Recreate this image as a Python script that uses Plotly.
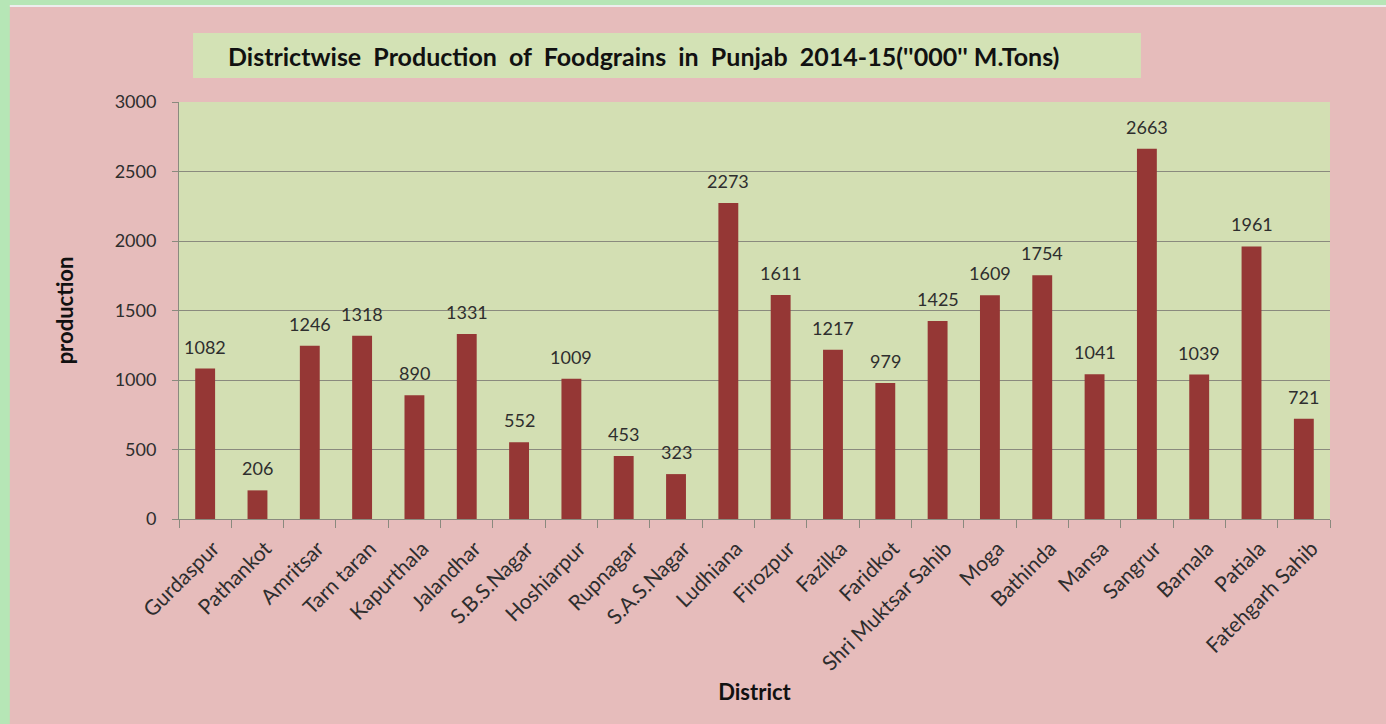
"""Districtwise foodgrain production in Punjab, 2014-15."""

import plotly.graph_objects as go

DISTRICTS = [
    "Gurdaspur", "Pathankot", "Amritsar", "Tarn taran", "Kapurthala",
    "Jalandhar", "S.B.S.Nagar", "Hoshiarpur", "Rupnagar", "S.A.S.Nagar",
    "Ludhiana", "Firozpur", "Fazilka", "Faridkot", "Shri Muktsar Sahib",
    "Moga", "Bathinda", "Mansa", "Sangrur", "Barnala", "Patiala",
    "Fatehgarh Sahib",
]
PRODUCTION = [
    1082, 206, 1246, 1318, 890,
    1331, 552, 1009, 453, 323,
    2273, 1611, 1217, 979, 1425,
    1609, 1754, 1041, 2663, 1039, 1961,
    721,
]
Y_TICKS = [0, 500, 1000, 1500, 2000, 2500, 3000]

FONT = "Lato, 'Open Sans', sans-serif"
PINK = "#E6BCBB"
PLOT_GREEN = "#D3DFB3"
EDGE_GREEN = "#B6E6B6"
BAR_RED = "#953735"
GRID = "#8A8A7E"
TEXT = "#2E2E2E"

fig = go.Figure()

fig.add_trace(
    go.Bar(
        x=DISTRICTS,
        y=PRODUCTION,
        marker=dict(color=BAR_RED, line=dict(width=0)),
        hoverinfo="x+y",
    )
)

# data labels sit a little above each bar, Excel style
for name, val in zip(DISTRICTS, PRODUCTION):
    fig.add_annotation(
        x=name, y=val, text=str(val),
        showarrow=False, yanchor="bottom", yshift=9,
        font=dict(family=FONT, size=18, color=TEXT),
    )

# title box
fig.add_shape(
    type="rect", xref="paper", yref="paper",
    x0=0.0122, x1=0.8357, y0=1.0576, y1=1.1655,
    fillcolor="#D3E2B5", line=dict(width=0), layer="below",
)
fig.add_annotation(
    xref="paper", yref="paper", x=0.4035, y=1.111,
    text="<b>Districtwise  Production  of  Foodgrains  in  Punjab  2014-15(''000'' M.Tons)</b>",
    showarrow=False, xanchor="center", yanchor="middle",
    font=dict(family=FONT, size=25, color="#111111"),
)

# green strips along the left and top edges of the picture
fig.add_shape(
    type="rect", xref="paper", yref="paper",
    x0=-0.17, x1=-0.1470, y0=-0.6, y1=1.3,
    fillcolor=EDGE_GREEN, line=dict(width=0), layer="below",
)
fig.add_shape(
    type="rect", xref="paper", yref="paper",
    x0=-0.2, x1=1.1, y0=1.2326, y1=1.3,
    fillcolor=EDGE_GREEN, line=dict(width=0), layer="below",
)
fig.add_shape(
    type="rect", xref="paper", yref="paper",
    x0=-0.147, x1=1.1, y0=1.2278, y1=1.2326,
    fillcolor="#EDEDED", line=dict(width=0), layer="below",
)

fig.update_layout(
    width=1386,
    height=724,
    margin=dict(l=179, r=56, t=102, b=205),
    paper_bgcolor=PINK,
    plot_bgcolor=PLOT_GREEN,
    bargap=0.62,
    showlegend=False,
    font=dict(family=FONT, size=18, color=TEXT),
    xaxis=dict(
        tickson="boundaries",
        ticks="outside",
        ticklen=8,
        tickcolor=GRID,
        tickangle=-45,
        ticklabelstandoff=8,
        ticklabelshift=8,
        tickfont=dict(size=21, color=TEXT),
        showline=True,
        linecolor=GRID,
        linewidth=1,
        showgrid=False,
        automargin=False,
        title=dict(
            text="<b>District</b>",
            font=dict(size=22, color="#111111"),
            standoff=10,
        ),
    ),
    yaxis=dict(
        range=[0, 3000],
        tickvals=Y_TICKS,
        ticks="outside",
        ticklen=6,
        tickcolor=GRID,
        ticklabelstandoff=12,
        tickfont=dict(size=18, color=TEXT),
        showline=True,
        linecolor=GRID,
        linewidth=1,
        gridcolor=GRID,
        gridwidth=1,
        zeroline=False,
        automargin=False,
        title=dict(
            text="<b>production</b>",
            font=dict(size=22, color="#111111"),
            standoff=34,
        ),
    ),
)

# the page's default body margin would shift the chart by 8px
fig.write_html(
    "out.html",
    config={"displayModeBar": False},
    post_script="document.body.style.margin='0';"
    "document.body.style.background='" + EDGE_GREEN + "';",
)
